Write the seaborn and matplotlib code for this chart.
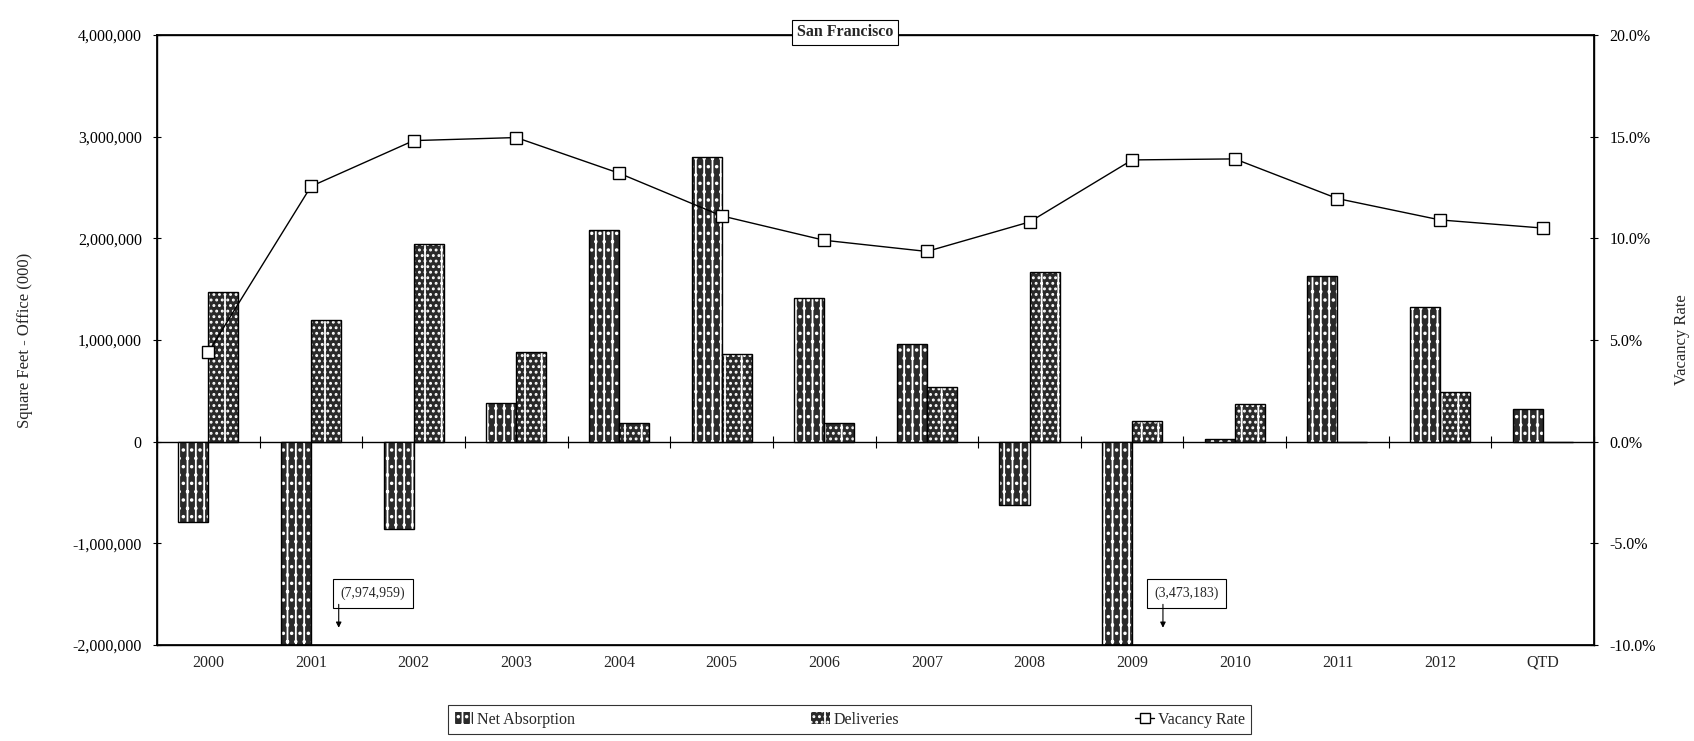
import numpy as np
import pandas as pd
import matplotlib
matplotlib.use("Agg")
import matplotlib.pyplot as plt
import matplotlib.ticker as mticker
from matplotlib.patches import Patch
from matplotlib.lines import Line2D
import seaborn as sns

# ── Data ─────────────────────────────────────────────────────────────────────
years = ["2000", "2001", "2002", "2003", "2004", "2005", "2006",
         "2007", "2008", "2009", "2010", "2011", "2012", "QTD"]
net_absorption = [-790000, -7974959, -860000, 380000, 2080000, 2800000, 1410000,
                  960000, -620000, -3473183, 30000, 1625000, 1325000, 325000]
deliveries = [1470000, 1200000, 1940000, 880000, 180000, 860000, 180000,
              540000, 1670000, 205000, 369000, 0, 484000, 0]
vacancy_rate = [4.4, 12.55, 14.8, 14.95, 13.2, 11.1, 9.9,
                9.35, 10.8, 13.85, 13.9, 11.95, 10.9, 10.5]
series = ["Net Absorption", "Deliveries"]
callout_years = ["2001", "2009"]

long = pd.DataFrame({
    "year": years * 2,
    "series": [series[0]] * len(years) + [series[1]] * len(years),
    "value": net_absorption + deliveries,
})

# ── Style ────────────────────────────────────────────────────────────────────
sns.set_theme(style="white")
plt.rcParams["font.family"] = ["Liberation Serif", "DejaVu Serif"]
plt.rcParams["axes.unicode_minus"] = False
plt.rcParams["hatch.linewidth"] = 1.3

BAR = "#2a2a2a"
HATCH = {series[0]: "||..", series[1]: "|..."}

fig = plt.figure(figsize=(16.94, 7.41), dpi=100)
ax = fig.add_axes([0.0927, 0.1295, 0.8483, 0.8235])

# filled bars with white stipple / stripes
sns.barplot(data=long, x="year", y="value", hue="series", order=years,
            hue_order=series, palette=[BAR, BAR], saturation=1,
            width=0.585, gap=0, linewidth=0, legend=False, ax=ax)
n = len(years)
for i, p in enumerate(list(ax.patches)):
    p.set_hatch(HATCH[series[i // n]])
    p.set_edgecolor("white")
    p.set_linewidth(0)
# black outlines
sns.barplot(data=long, x="year", y="value", hue="series", order=years,
            hue_order=series, palette=["black", "black"], fill=False,
            width=0.585, gap=0, linewidth=1.0, legend=False, ax=ax)

ymin, ymax = -2000000, 4000000
ax.set_xlim(-0.5, n - 0.5)
ax.set_ylim(ymin, ymax)
ax.yaxis.set_major_locator(mticker.MultipleLocator(1000000))
ax.yaxis.set_major_formatter(mticker.StrMethodFormatter("{x:,.0f}"))
ax.tick_params(axis="y", direction="inout", length=6, width=0.8, pad=8,
               labelsize=11.5, left=True, colors="black")
ax.tick_params(axis="x", length=0, pad=7, labelsize=11.5)
ax.set_xlabel("")
ax.set_ylabel("Square Feet - Office (000)", fontsize=12)
ax.yaxis.set_label_coords(-0.086, 0.5)
for s in ax.spines.values():
    s.set_visible(True)
    s.set_color("black")
    s.set_linewidth(1.0)

# category axis crossing at zero, with tick marks between categories
sec = ax.secondary_xaxis((0 - ymin) / (ymax - ymin))
sec.set_xticks(np.arange(n + 1) - 0.5)
sec.set_xticklabels([])
sec.tick_params(direction="inout", length=8, width=0.8, colors="black")
for s in sec.spines.values():
    s.set_color("black")
    s.set_linewidth(1.0)

# callouts for the clipped bars: label box plus a vertical arrow below it
for yr, dx_tip, dx_box in zip(callout_years, [0.27, 0.30], [0.60, 0.53]):
    idx = years.index(yr)
    v = net_absorption[idx]
    ax.text(idx + dx_box, -1490000, f"({abs(v):,.0f})", ha="center", va="center",
            fontsize=10,
            bbox=dict(boxstyle="square,pad=0.55", fc="white", ec="black", lw=0.8))
    ax.annotate("", xy=(idx + dx_tip, -1830000), xytext=(idx + dx_tip, -1600000),
                textcoords="data",
                arrowprops=dict(arrowstyle="-|>", color="black", lw=0.8,
                                shrinkA=0, shrinkB=0, mutation_scale=8))

# ── Vacancy rate (right axis) ────────────────────────────────────────────────
ax2 = ax.twinx()
sns.lineplot(x=np.arange(n), y=vacancy_rate, ax=ax2, color="black", lw=1.0,
             marker="s", markersize=8, markerfacecolor="white",
             markeredgecolor="black", markeredgewidth=1.0)
ax2.set_ylim(-10, 20)
ax2.yaxis.set_major_locator(mticker.MultipleLocator(5))
ax2.yaxis.set_major_formatter(mticker.StrMethodFormatter("{x:.1f}%"))
ax2.tick_params(axis="y", direction="inout", length=6, width=0.8, pad=8,
                labelsize=11.5, right=True, colors="black")
ax2.set_ylabel("Vacancy Rate", fontsize=12)
ax2.yaxis.set_label_coords(1.0555, 0.5)
ax2.grid(False)
for s in ax2.spines.values():
    s.set_color("black")

ax2.text(0.479, 1.004, "San Francisco", transform=ax2.transAxes, ha="center",
         va="center", fontsize=11.5, fontweight="bold",
         bbox=dict(boxstyle="square,pad=0.3", fc="white", ec="black", lw=0.8))

# ── Legend ───────────────────────────────────────────────────────────────────
handles = [
    Patch(facecolor=BAR, edgecolor="white", hatch=HATCH[series[0]], lw=0),
    Patch(facecolor=BAR, edgecolor="white", hatch=HATCH[series[1]], lw=0),
    Line2D([0], [0], color="black", lw=1.0, marker="s", markersize=7,
           markerfacecolor="white", markeredgecolor="black"),
]
leg = fig.legend(handles, series + ["Vacancy Rate"], loc="center", ncol=3,
                 bbox_to_anchor=(0.2597, 0.0067, 0.4835, 0.0445), mode="expand",
                 frameon=True, fancybox=False, fontsize=11.5, handlelength=1.2,
                 handletextpad=0.2, borderpad=0.4)
leg.get_frame().set_edgecolor("black")
leg.get_frame().set_linewidth(0.8)

fig.savefig("out.png", dpi=100, facecolor="white")
plt.close(fig)
